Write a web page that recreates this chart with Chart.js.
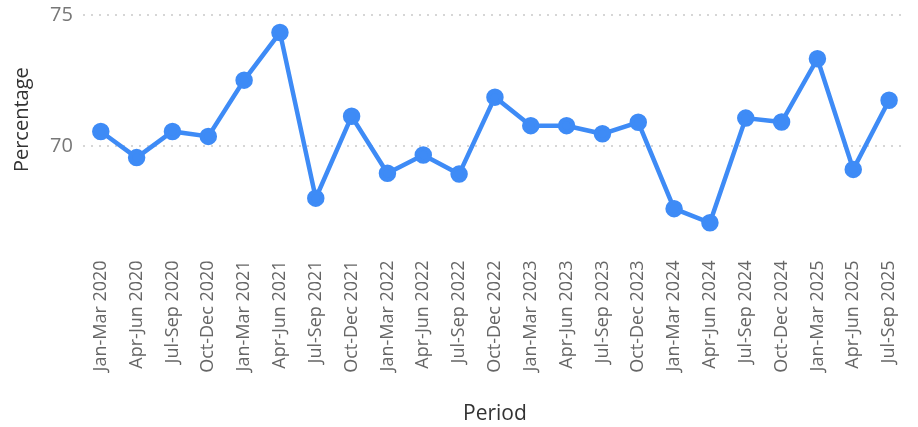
<!DOCTYPE html>
<html>
<head>
<meta charset="utf-8">
<script src="https://cdn.jsdelivr.net/npm/chart.js@4/dist/chart.umd.min.js"></script>
<style>
  html, body { margin: 0; padding: 0; background: #fff; }
  #wrap { width: 918px; height: 427px; }
</style>
</head>
<body>
<div id="wrap"><canvas id="chart"></canvas></div>
<script>
const periods = [
  "Jan-Mar 2020", "Apr-Jun 2020", "Jul-Sep 2020", "Oct-Dec 2020",
  "Jan-Mar 2021", "Apr-Jun 2021", "Jul-Sep 2021", "Oct-Dec 2021",
  "Jan-Mar 2022", "Apr-Jun 2022", "Jul-Sep 2022", "Oct-Dec 2022",
  "Jan-Mar 2023", "Apr-Jun 2023", "Jul-Sep 2023", "Oct-Dec 2023",
  "Jan-Mar 2024", "Apr-Jun 2024", "Jul-Sep 2024", "Oct-Dec 2024",
  "Jan-Mar 2025", "Apr-Jun 2025", "Jul-Sep 2025"
];
const percentage = [
  70.55, 69.55, 70.55, 70.36,
  72.51, 74.33, 68.0, 71.13,
  68.95, 69.65, 68.92, 71.86,
  70.77, 70.77, 70.46, 70.9,
  67.6, 67.06, 71.06, 70.91,
  73.33, 69.1, 71.74
];
const yTicks = [70, 75];

const font = "'Segoe UI', 'Open Sans', sans-serif";

new Chart(document.getElementById("chart"), {
  type: "line",
  data: {
    labels: periods,
    datasets: [{
      label: "Percentage",
      data: percentage,
      borderColor: "#3E8BF6",
      backgroundColor: "#3E8BF6",
      borderWidth: 4.5,
      pointRadius: 6.5,
      pointHoverRadius: 6.5,
      tension: 0,
      clip: false
    }]
  },
  options: {
    responsive: true,
    maintainAspectRatio: false,
    animation: false,
    layout: { padding: { top: 0, right: 0, left: 6, bottom: 0 } },
    plugins: { legend: { display: false }, tooltip: { enabled: false } },
    scales: {
      x: {
        offset: true,
        // ticks are hidden, tickLength only makes the gap above the labels
        grid: { display: false, drawTicks: true, tickLength: 30 },
        border: { display: false },
        ticks: {
          minRotation: 90, maxRotation: 90, autoSkip: false, padding: 6,
          color: "#666", font: { family: font, size: 18 }
        },
        title: {
          display: true, text: "Period", color: "#333",
          font: { family: font, size: 21 }, padding: { top: 23, bottom: 0 }
        }
      },
      y: {
        min: 67,
        max: 75,
        afterBuildTicks: (axis) => { axis.ticks = yTicks.map(v => ({ value: v })); },
        grid: { color: "#d6d6d6", lineWidth: 2, drawTicks: false },
        border: { display: false, dash: [2, 6] },
        ticks: { padding: 10, color: "#777", font: { family: font, size: 20, lineHeight: 0.5 } },
        title: {
          display: true, text: "Percentage", color: "#333",
          font: { family: font, size: 20 }, padding: { bottom: 6 }
        }
      }
    }
  }
});
</script>
</body>
</html>
